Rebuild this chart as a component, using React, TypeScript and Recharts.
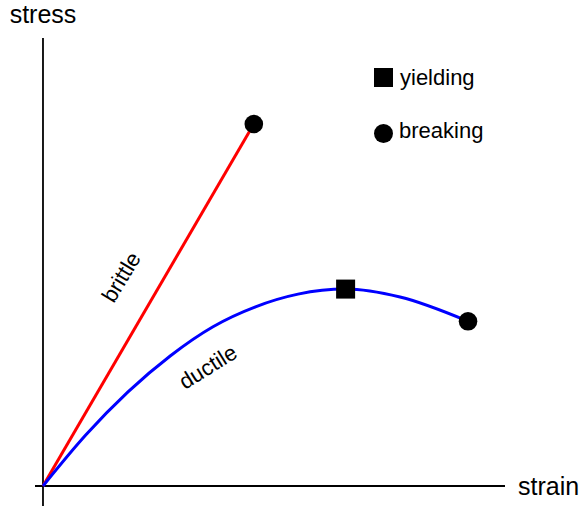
import {
  ComposedChart,
  Line,
  Scatter,
  XAxis,
  YAxis,
  ReferenceLine,
  Legend,
} from "recharts";

// strain (x) / stress (y) in arbitrary units, origin at the axes crossing
const brittleCurve = [
  { x: 0, y: 0 },
  { x: 4.96, y: 10.0 },
];

const ductileCurve = [
  { x: 0, y: 0 },
  { x: 1, y: 1.4 },
  { x: 2, y: 2.6 },
  { x: 3, y: 3.6 },
  { x: 4, y: 4.4 },
  { x: 5, y: 4.95 },
  { x: 6, y: 5.3 },
  { x: 7.12, y: 5.44 },
  { x: 8.4, y: 5.22 },
  { x: 10.0, y: 4.55 },
];

const yieldPoints = [{ x: 7.12, y: 5.44 }];
const breakPoints = [
  { x: 4.96, y: 10.0 },
  { x: 10.0, y: 4.55 },
];

const curveLabels = [
  { x: 1.84, y: 5.77, text: "brittle", angle: -59 },
  { x: 3.88, y: 3.29, text: "ductile", angle: -32 },
];

const xDomain = [-0.188, 10.87];
const yDomain = [-0.552, 12.376];

const FONT = "'Liberation Sans', Arial, sans-serif";

const SquareMark = (props: any) => (
  <rect x={props.cx - 9.5} y={props.cy - 9.5} width={19} height={19} fill="#000" />
);

const CircleMark = (props: any) => <circle cx={props.cx} cy={props.cy} r={9.3} fill="#000" />;

const CurveText = (props: any) => {
  const { cx, cy, payload } = props;
  return (
    <text
      x={cx}
      y={cy}
      textAnchor="middle"
      dominantBaseline="central"
      fontSize={22}
      fontFamily={FONT}
      fill="#000"
      transform={`rotate(${payload.angle}, ${cx}, ${cy})`}
    >
      {payload.text}
    </text>
  );
};

const MarkerLegend = () => (
  <div style={{ position: "relative", width: 130, height: 90, fontFamily: FONT, fontSize: 22, lineHeight: 1, color: "#000" }}>
    <div style={{ position: "absolute", left: 4, top: 8, width: 19, height: 19, background: "#000" }} />
    <span style={{ position: "absolute", left: 30, top: 7.4 }}>yielding</span>
    <div style={{ position: "absolute", left: 3.5, top: 64, width: 19, height: 19, borderRadius: "50%", background: "#000" }} />
    <span style={{ position: "absolute", left: 29, top: 59.7 }}>breaking</span>
  </div>
);

export default function App() {
  return (
    <div style={{ position: "absolute", left: 0, top: 0, background: "#fff" }}>
      <ComposedChart width={581} height={506} margin={{ top: 38, right: 76, bottom: 0, left: 35 }}>
        <XAxis type="number" dataKey="x" domain={xDomain} allowDataOverflow hide />
        <YAxis type="number" dataKey="y" domain={yDomain} allowDataOverflow hide />
        <ReferenceLine
          x={0}
          stroke="#000"
          strokeWidth={1.8}
          label={{ value: "stress", position: "top", offset: 15, fontSize: 25, fill: "#000", fontFamily: FONT }}
        />
        <ReferenceLine
          y={0}
          stroke="#000"
          strokeWidth={1.8}
          label={{ value: "strain", position: "right", offset: 13, fontSize: 25, fill: "#000", fontFamily: FONT }}
        />
        <Line
          data={brittleCurve}
          dataKey="y"
          type="linear"
          stroke="#ff0000"
          strokeWidth={3}
          dot={false}
          legendType="none"
          isAnimationActive={false}
        />
        <Line
          data={ductileCurve}
          dataKey="y"
          type="monotone"
          stroke="#0000ff"
          strokeWidth={3}
          dot={false}
          legendType="none"
          isAnimationActive={false}
        />
        <Scatter data={curveLabels} dataKey="y" shape={CurveText} legendType="none" isAnimationActive={false} />
        <Scatter name="yielding" data={yieldPoints} dataKey="y" shape={SquareMark} isAnimationActive={false} />
        <Scatter name="breaking" data={breakPoints} dataKey="y" shape={CircleMark} isAnimationActive={false} />
        <Legend
          layout="horizontal"
          verticalAlign="middle"
          align="center"
          content={MarkerLegend}
          wrapperStyle={{ top: 60, left: 370, width: 130, height: 90 }}
        />
      </ComposedChart>
    </div>
  );
}
